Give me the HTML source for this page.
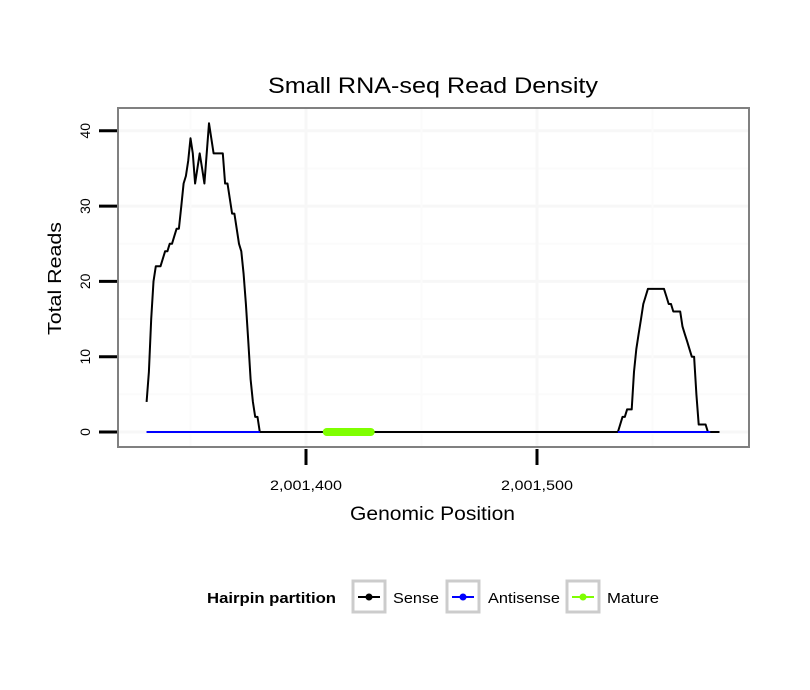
<!DOCTYPE html>
<html><head><meta charset="utf-8"><style>
body{margin:0;background:#fff}
svg{display:block;font-family:"Liberation Sans",sans-serif}
</style></head><body>
<svg width="810" height="690">
<g id="grid"></g>
<g id="marks"></g>
<rect x="118" y="108" width="631" height="339" fill="none" stroke="#808080" stroke-width="2"/>
<g id="axes"></g>
<text x="268" y="93" font-size="22" textLength="330" lengthAdjust="spacingAndGlyphs">Small RNA-seq Read Density</text>
<text x="350" y="520" font-size="19" textLength="165" lengthAdjust="spacingAndGlyphs">Genomic Position</text>
<text transform="translate(61,335) rotate(-90)" font-size="18" textLength="113" lengthAdjust="spacingAndGlyphs">Total Reads</text>
<g>
<text x="207" y="603" font-size="15" font-weight="bold" textLength="129" lengthAdjust="spacingAndGlyphs">Hairpin partition</text>
<g>
<rect x="353" y="581" width="32" height="31" fill="#fff" stroke="#ccc" stroke-width="3"/>
<line x1="358" y1="597" x2="380" y2="597" stroke="#000" stroke-width="2"/><circle cx="369" cy="597" r="3.5" fill="#000"/>
<text x="393" y="603" font-size="15" textLength="46" lengthAdjust="spacingAndGlyphs">Sense</text></g>
<g>
<rect x="447" y="581" width="32" height="31" fill="#fff" stroke="#ccc" stroke-width="3"/>
<line x1="452" y1="597" x2="474" y2="597" stroke="#0000ff" stroke-width="2"/><circle cx="463" cy="597" r="3.5" fill="#0000ff"/>
<text x="488" y="603" font-size="15" textLength="72" lengthAdjust="spacingAndGlyphs">Antisense</text></g>
<g>
<rect x="567" y="581" width="32" height="31" fill="#fff" stroke="#ccc" stroke-width="3"/>
<line x1="572" y1="597" x2="594" y2="597" stroke="#7fff00" stroke-width="2"/><circle cx="583" cy="597" r="3.5" fill="#7fff00"/>
<text x="607" y="603" font-size="15" textLength="52" lengthAdjust="spacingAndGlyphs">Mature</text></g>
</g>
</svg>
<script>
const startPos = 2001331;
const leftPeak = [4,8,15,20,22,22,22,23,24,24,25,25,26,27,27,30,33,34,36,39,37,33,35,37,35,33,37,41,39,37,37,37,37,37,33,33,31,29,29,27,25,24,21,17,12,7,4,2,2,0];
const rightPeakStart = 2001535;
const rightPeak = [0,1,2,2,3,3,3,8,11,13,15,17,18,19,19,19,19,19,19,19,19,18,17,17,16,16,16,16,14,13,12,11,10,10,5,1,1,1,1,0,0,0,0,0,0];
const antisenseRange = [2001331, 2001575];
const matureRange = [2001409, 2001428];
const yTicks = [0,10,20,30,40];
const yMinor = [5,15,25,35];
const xTicks = [2001400, 2001500];
const xTickLabels = ["2,001,400","2,001,500"];
const xMinor = [2001350, 2001450, 2001550];

const NS='http://www.w3.org/2000/svg';
const X = p => 306 + (p - 2001400) * 2.31;
const Y = v => 432 - v * 7.53;
function mk(t, a, parent){const e=document.createElementNS(NS,t);for(const k in a)e.setAttribute(k,a[k]);parent.appendChild(e);return e;}
const grid=document.getElementById('grid'), marks=document.getElementById('marks'), axes=document.getElementById('axes');
mk('rect',{x:118,y:108,width:631,height:339,fill:'#fff'},grid);
yMinor.forEach(v=>{const l=mk('line',{x1:118,x2:749,y1:Y(v),y2:Y(v),stroke:'#fbfbfb','stroke-width':2},grid);

});
yTicks.forEach(v=>{const l=mk('line',{x1:118,x2:749,y1:Y(v),y2:Y(v),stroke:'#f7f7f7','stroke-width':3},grid);

});
xMinor.forEach(p=>{const l=mk('line',{x1:X(p),x2:X(p),y1:108,y2:447,stroke:'#fbfbfb','stroke-width':2},grid);

});
xTicks.forEach(p=>{const l=mk('line',{x1:X(p),x2:X(p),y1:108,y2:447,stroke:'#f7f7f7','stroke-width':3},grid);

});

const as=mk('line',{x1:X(antisenseRange[0]),x2:X(antisenseRange[1]),y1:Y(0),y2:Y(0),stroke:'#0000ff','stroke-width':2},marks);


const endPos = rightPeakStart + rightPeak.length - 1;
let pts=[];
for(let p=startPos;p<=endPos;p++){
  let v=0;
  if(p-startPos<leftPeak.length) v=leftPeak[p-startPos];
  else if(p>=rightPeakStart) v=rightPeak[p-rightPeakStart];
  pts.push(X(p).toFixed(1)+','+Y(v).toFixed(1));
}
const sense=mk('polyline',{points:pts.join(' '),fill:'none',stroke:'#000','stroke-width':2,'stroke-linejoin':'round'},marks);


const asL=mk('line',{x1:X(startPos),x2:X(startPos+leftPeak.length-1),y1:Y(0),y2:Y(0),stroke:'#0000ff','stroke-width':2},marks);


const asR=mk('line',{x1:X(rightPeakStart),x2:X(antisenseRange[1]),y1:Y(0),y2:Y(0),stroke:'#0000ff','stroke-width':2},marks);


const mat=mk('line',{x1:X(matureRange[0]),x2:X(matureRange[1]),y1:Y(0),y2:Y(0),stroke:'#7fff00','stroke-width':8,'stroke-linecap':'round'},marks);



yTicks.forEach(v=>{
  const t=mk('line',{x1:99,x2:117,y1:Y(v),y2:Y(v),stroke:'#000','stroke-width':3},axes);
  
  
  const tx=mk('text',{transform:`translate(90,${Y(v)}) rotate(-90)`,'font-size':14,'text-anchor':'middle'},axes);
  tx.textContent=v;
  
  
});
xTicks.forEach((p,i)=>{
  const t=mk('line',{x1:X(p),x2:X(p),y1:449,y2:465,stroke:'#000','stroke-width':3},axes);
  
  
  const tx=mk('text',{x:X(p)-36,y:490,'font-size':14,textLength:72,lengthAdjust:'spacingAndGlyphs'},axes);
  tx.textContent=xTickLabels[i];
  
  
});
</script>
</body></html>
